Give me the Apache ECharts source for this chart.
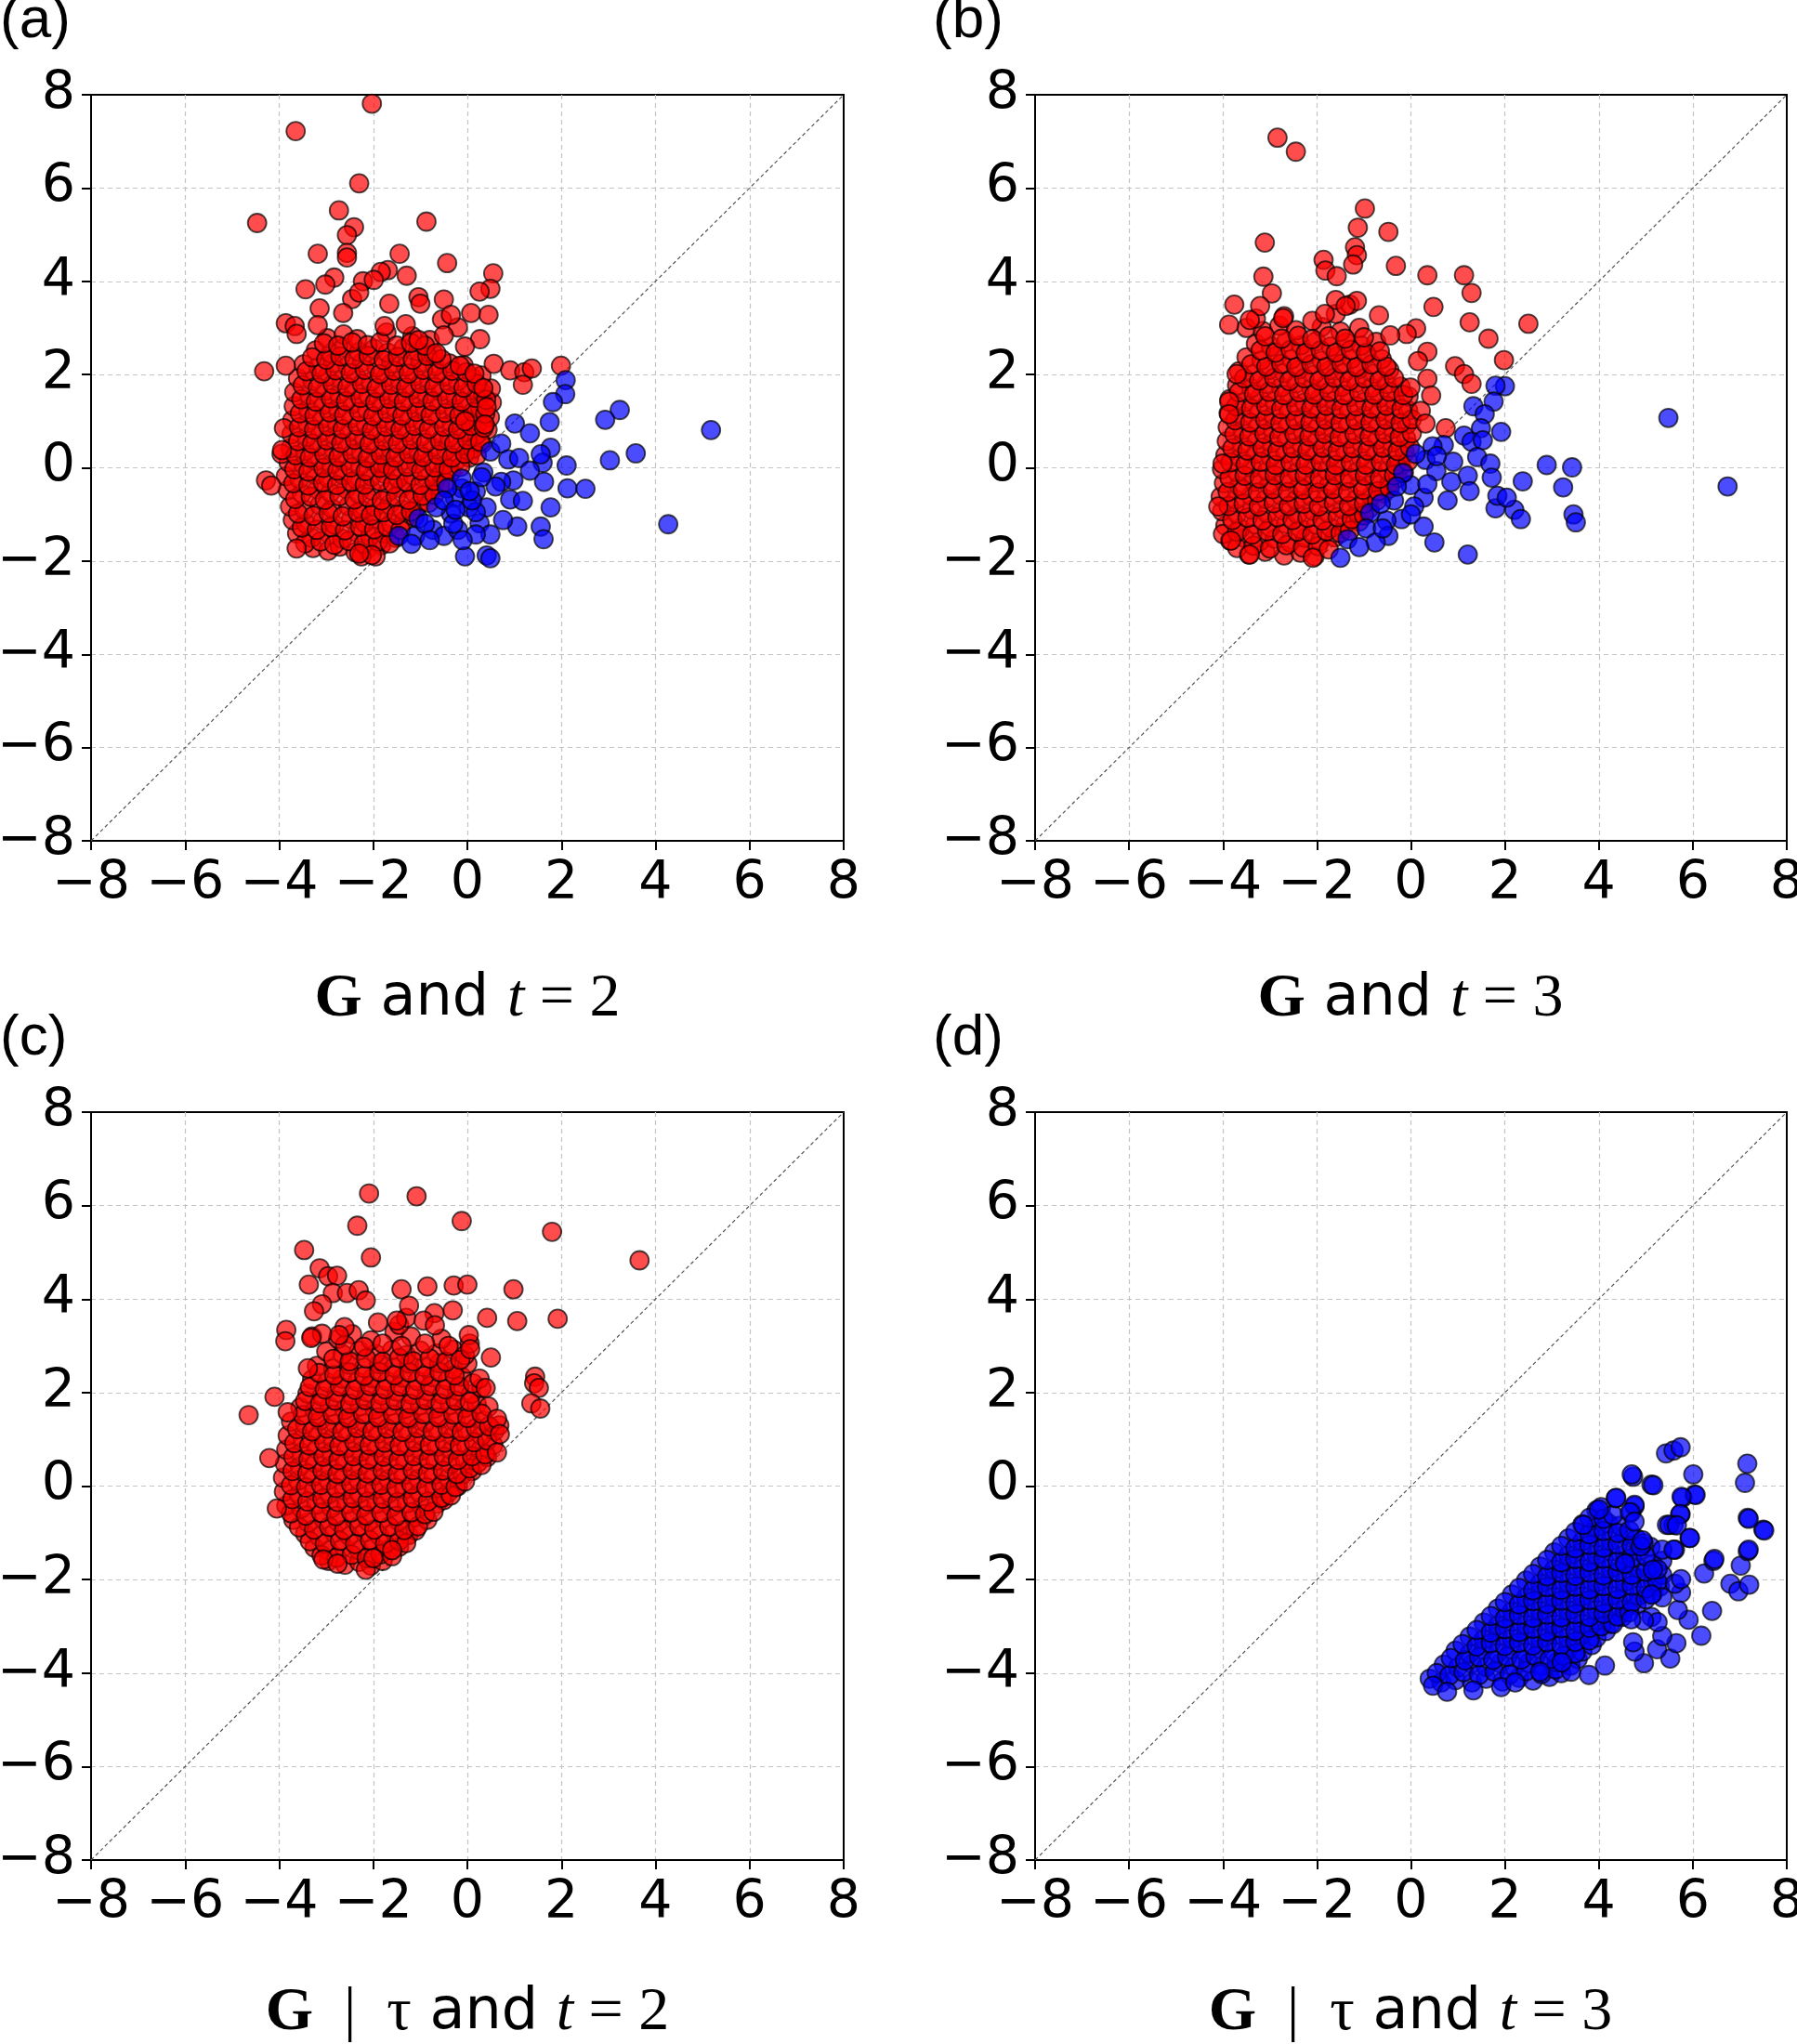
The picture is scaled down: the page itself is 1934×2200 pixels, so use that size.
<!DOCTYPE html>
<html>
<head>
<meta charset="utf-8">
<script src="https://cdn.jsdelivr.net/npm/echarts/dist/echarts.min.js"></script>
<style>
  html, body { margin: 0; padding: 0; background: #fff; }
  #chart-container { width: 1934px; height: 2200px; }
</style>
</head>
<body>
<div id="chart-container"></div>
<script>
// axis ticks shared by all four panels
var tickValues = [-8, -6, -4, -2, 0, 2, 4, 6, 8];
var diagLine = [[-8, -8], [8, 8]];

// (a) G and t = 2
var aRed = [
  [-3.28,-1.72],[-2.96,-1.78],[-2.71,-1.69],[-2.38,-1.81],[-2.12,-1.74],[-1.83,-1.66],[-1.95,-1.9],[-2.25,-1.9],
  [-3.62,-1.41],[-3.31,-1.5],[-2.93,-1.43],[-2.66,-1.52],[-2.34,-1.39],[-2.07,-1.47],[-1.77,-1.41],[-1.52,-1.5],
  [-3.71,-1.12],[-3.43,-1.2],[-3.08,-1.13],[-2.82,-1.22],[-2.47,-1.1],[-2.18,-1.18],[-1.91,-1.09],[-1.62,-1.2],[-1.34,-1.13],[-1.12,-1.05],
  [-3.77,-0.83],[-3.46,-0.9],[-3.14,-0.8],[-2.87,-0.88],[-2.53,-0.82],[-2.24,-0.91],[-1.96,-0.84],[-1.66,-0.79],[-1.37,-0.9],[-1.06,-0.82],[-0.82,-0.75],
  [-3.82,-0.48],[-3.52,-0.55],[-3.19,-0.46],[-2.91,-0.53],[-2.58,-0.45],[-2.31,-0.56],[-2.02,-0.49],[-1.69,-0.52],[-1.41,-0.44],[-1.12,-0.55],[-0.79,-0.47],[-0.58,-0.4],
  [-3.86,-0.18],[-3.57,-0.24],[-3.23,-0.15],[-2.96,-0.22],[-2.64,-0.16],[-2.36,-0.25],[-2.04,-0.19],[-1.76,-0.13],[-1.47,-0.23],[-1.16,-0.17],[-0.86,-0.21],[-0.57,-0.12],[-0.34,-0.08],
  [-3.8,0.12],[-3.48,0.06],[-3.21,0.15],[-2.89,0.08],[-2.62,0.14],[-2.28,0.05],[-1.98,0.13],[-1.71,0.07],[-1.39,0.16],[-1.09,0.09],[-0.81,0.14],[-0.49,0.06],[-0.22,0.17],[0.04,0.22],
  [-3.76,0.42],[-3.45,0.36],[-3.16,0.45],[-2.84,0.38],[-2.55,0.46],[-2.26,0.35],[-1.94,0.43],[-1.63,0.39],[-1.33,0.47],[-1.04,0.36],[-0.74,0.44],[-0.45,0.38],[-0.15,0.47],[0.12,0.41],[0.31,0.52],
  [-3.74,0.72],[-3.41,0.66],[-3.12,0.75],[-2.81,0.69],[-2.51,0.77],[-2.19,0.65],[-1.9,0.74],[-1.58,0.68],[-1.28,0.76],[-0.98,0.67],[-0.69,0.73],[-0.38,0.65],[-0.09,0.76],[0.2,0.71],[0.43,0.82],
  [-3.72,1.02],[-3.4,0.96],[-3.09,1.05],[-2.78,0.98],[-2.47,1.06],[-2.16,0.95],[-1.86,1.04],[-1.55,0.97],[-1.24,1.06],[-0.95,0.99],[-0.63,1.05],[-0.33,0.96],[-0.04,1.04],[0.24,0.98],[0.48,1.08],
  [-3.69,1.32],[-3.38,1.26],[-3.06,1.35],[-2.75,1.28],[-2.44,1.37],[-2.13,1.25],[-1.82,1.34],[-1.52,1.27],[-1.21,1.36],[-0.9,1.28],[-0.6,1.35],[-0.29,1.27],[0.0,1.36],[0.27,1.29],[0.52,1.4],
  [-3.68,1.62],[-3.36,1.56],[-3.03,1.65],[-2.72,1.58],[-2.41,1.66],[-2.1,1.55],[-1.79,1.64],[-1.48,1.57],[-1.18,1.67],[-0.86,1.58],[-0.56,1.64],[-0.25,1.56],[0.05,1.66],[0.33,1.6],[0.5,1.7],
  [-3.6,1.92],[-3.29,1.86],[-2.98,1.95],[-2.67,1.88],[-2.36,1.96],[-2.05,1.85],[-1.74,1.94],[-1.43,1.87],[-1.12,1.96],[-0.81,1.88],[-0.5,1.95],[-0.2,1.86],[0.1,1.94],[0.3,1.98],
  [-3.48,2.22],[-3.17,2.16],[-2.86,2.25],[-2.55,2.18],[-2.24,2.26],[-1.93,2.15],[-1.62,2.24],[-1.31,2.17],[-1.0,2.26],[-0.69,2.18],[-0.38,2.24],[-0.08,2.2],
  [-3.22,2.52],[-2.9,2.46],[-2.62,2.58],[-2.3,2.49],[-1.98,2.55],[-1.69,2.47],[-1.36,2.56],[-1.05,2.5],[-0.72,2.45],
  [-2.98,2.78],[-2.63,2.86],[-2.34,2.76],[-1.72,2.9],[-1.17,2.82],[-0.8,2.74],[-3.95,0.3],[-3.9,0.85],
  [-3.45,-1.62],[-3.12,-1.58],[-2.83,-1.65],[-2.52,-1.57],[-2.2,-1.63],[-1.9,-1.58],[-1.65,-1.62],
  [-3.52,-1.28],[-3.2,-1.33],[-2.9,-1.27],[-2.6,-1.34],[-2.28,-1.26],[-1.98,-1.32],[-1.7,-1.27],[-1.42,-1.33],
  [-3.6,-0.98],[-3.27,-1.03],[-2.95,-0.97],[-2.65,-1.04],[-2.33,-0.96],[-2.05,-1.02],[-1.78,-0.95],[-1.5,-1.01],[-1.2,-0.94],
  [-3.66,-0.67],[-3.33,-0.62],[-3.03,-0.69],[-2.72,-0.61],[-2.4,-0.68],[-2.12,-0.63],[-1.82,-0.7],[-1.52,-0.62],[-1.25,-0.69],[-0.95,-0.6],[-0.7,-0.58],
  [-3.7,-0.33],[-3.38,-0.38],[-3.07,-0.31],[-2.77,-0.37],[-2.47,-0.3],[-2.18,-0.36],[-1.86,-0.29],[-1.58,-0.35],[-1.3,-0.3],[-1.0,-0.37],[-0.7,-0.28],[-0.45,-0.32],
  [-3.68,-0.03],[-3.38,-0.08],[-3.06,0.0],[-2.76,-0.06],[-2.48,0.01],[-2.16,-0.07],[-1.86,0.0],[-1.58,-0.05],[-1.28,0.02],[-0.98,-0.06],[-0.7,0.01],[-0.4,-0.03],[-0.15,0.02],
  [-3.65,0.27],[-3.35,0.22],[-3.04,0.29],[-2.74,0.23],[-2.44,0.3],[-2.12,0.21],[-1.84,0.28],[-1.53,0.22],[-1.24,0.3],[-0.94,0.23],[-0.63,0.28],[-0.33,0.22],[-0.05,0.3],[0.2,0.27],
  [-3.6,0.57],[-3.3,0.52],[-2.99,0.59],[-2.68,0.53],[-2.39,0.6],[-2.08,0.51],[-1.78,0.58],[-1.48,0.52],[-1.18,0.6],[-0.88,0.53],[-0.58,0.58],[-0.28,0.52],[0.0,0.6],[0.27,0.56],
  [-3.58,0.87],[-3.26,0.82],[-2.96,0.89],[-2.65,0.83],[-2.33,0.9],[-2.03,0.81],[-1.73,0.88],[-1.42,0.82],[-1.12,0.9],[-0.82,0.83],[-0.5,0.88],[-0.2,0.82],[0.08,0.9],[0.35,0.86],
  [-3.56,1.17],[-3.25,1.12],[-2.93,1.19],[-2.62,1.13],[-2.3,1.2],[-2.0,1.11],[-1.7,1.18],[-1.38,1.12],[-1.08,1.2],[-0.78,1.13],[-0.47,1.18],[-0.17,1.12],[0.12,1.2],[0.38,1.16],
  [-3.53,1.47],[-3.22,1.42],[-2.9,1.49],[-2.58,1.43],[-2.27,1.5],[-1.96,1.41],[-1.66,1.48],[-1.35,1.42],[-1.04,1.5],[-0.74,1.43],[-0.43,1.48],[-0.12,1.42],[0.18,1.5],[0.4,1.46],
  [-3.5,1.77],[-3.18,1.72],[-2.86,1.79],[-2.55,1.73],[-2.24,1.8],[-1.93,1.71],[-1.62,1.78],[-1.3,1.72],[-1.0,1.8],[-0.7,1.73],[-0.38,1.78],[-0.08,1.72],[0.2,1.8],
  [-3.42,2.07],[-3.1,2.02],[-2.8,2.09],[-2.48,2.03],[-2.18,2.1],[-1.86,2.01],[-1.56,2.08],[-1.25,2.02],[-0.94,2.1],[-0.64,2.03],[-0.32,2.08],[-0.02,2.05],
  [-3.3,2.37],[-3.0,2.32],[-2.7,2.39],[-2.4,2.33],[-2.1,2.4],[-1.78,2.31],[-1.48,2.38],[-1.16,2.32],[-0.85,2.4],[-0.55,2.33],
  [-3.05,2.67],[-2.75,2.62],[-2.45,2.69],[-2.12,2.63],[-1.85,2.7],[-1.5,2.62],[-1.2,2.68],[-0.9,2.62],
  [-2.03,7.81],[-3.65,7.22],[-2.3,6.1],[-4.47,5.25],[-2.73,5.52],[-2.41,5.16],[-2.56,4.99],[-0.87,5.28],[-3.18,4.59],[-2.56,4.61],
  [-2.56,4.51],[-1.44,4.59],[-0.43,4.39],[0.55,4.17],[-1.69,4.24],[-1.84,4.2],[-1.29,4.12],[-2.83,4.08],[-3.02,3.93],[-3.44,3.83],
  [-2.22,4.0],[-1.99,4.03],[0.49,3.84],[0.26,3.78],[-1.04,3.66],[-0.5,3.61],[-2.45,3.62],[-2.3,3.76],[-1.66,3.52],[-1.0,3.52],
  [-3.14,3.42],[-2.64,3.32],[0.08,3.32],[0.45,3.28],[-3.86,3.1],[-3.67,3.04],[-3.63,2.87],[-3.18,3.06],[-1.76,3.04],[-1.31,3.08],
  [-0.54,3.18],[-0.2,3.01],[-0.35,3.28],[-0.5,2.84],[0.27,2.76],[-0.05,2.6],[-1.04,2.74],[-0.66,2.46],[-4.32,2.07],[-3.86,2.19],
  [0.56,2.23],[0.91,2.09],[1.21,2.05],[1.37,2.13],[1.18,1.78],[1.99,2.19],[-0.16,2.19],[0.15,2.02],[0.34,1.71],[0.41,1.3],
  [-0.05,1.0],[0.37,0.93],[-4.28,-0.27],[-4.17,-0.38],[-3.94,0.38],[-3.63,-1.73],[-2.03,-1.87],[-2.3,-1.84]
];
var aBlue = [
  [2.09,1.88],[2.08,1.58],[1.82,1.41],[1.75,0.98],[1.01,0.95],[1.33,0.74],[3.24,1.24],[2.93,1.03],[5.18,0.81],[3.58,0.31],
  [3.03,0.16],[2.11,0.05],[1.77,0.43],[1.6,0.11],[1.63,-0.3],[2.13,-0.44],[2.51,-0.45],[1.77,-0.85],[0.91,-0.68],[1.18,-0.71],
  [1.06,-1.26],[1.56,-1.26],[1.62,-1.53],[4.27,-1.21],[-0.05,-1.9],[0.41,-1.88],[0.49,-1.94],[0.49,0.35],[0.72,0.52],[0.87,0.18],
  [1.1,0.21],[1.33,-0.06],[0.98,-0.27],[0.72,-0.3],[0.34,-0.1],[0.18,-0.51],[-0.12,-0.44],[0.41,-0.85],[0.26,-1.19],[0.49,-1.43],
  [0.76,-1.12],[0.03,-0.85],[-0.27,-0.64],[-0.35,-0.98],[-0.66,-0.85],[-0.73,-1.33],[-1.04,-1.09],[-1.11,-1.46],[-1.46,-1.46],[-1.19,-1.63],
  [-0.5,-1.46],[-0.2,-1.33],[0.18,-1.43],[-0.12,-0.23],[-0.43,-0.44],[0.18,-0.95],[1.56,0.29],[-0.9,-1.2],[-0.3,-1.2],[0.1,-0.7],
  [-0.1,-1.55],[0.6,-0.4],[0.3,-0.2],[-0.5,-0.7],[-0.8,-1.55],[0.05,-0.5],[-0.25,-0.9]
];

// (b) G and t = 3
var bRed = [
  [-3.45,-1.86],[-3.1,-1.8],[-2.7,-1.88],[-2.35,-1.82],[-2.05,-1.9],
  [-3.85,-1.56],[-3.55,-1.5],[-3.22,-1.58],[-2.9,-1.52],[-2.57,-1.6],[-2.25,-1.5],[-1.93,-1.57],[-1.62,-1.49],
  [-3.95,-1.24],[-3.63,-1.3],[-3.31,-1.21],[-2.99,-1.28],[-2.66,-1.2],[-2.34,-1.31],[-2.02,-1.22],[-1.7,-1.29],[-1.39,-1.2],[-1.1,-1.15],
  [-4.02,-0.93],[-3.7,-0.99],[-3.38,-0.9],[-3.06,-0.98],[-2.73,-0.91],[-2.41,-1.0],[-2.09,-0.92],[-1.77,-0.97],[-1.45,-0.89],[-1.14,-0.96],[-0.88,-0.87],
  [-4.05,-0.62],[-3.73,-0.68],[-3.41,-0.6],[-3.09,-0.67],[-2.77,-0.59],[-2.45,-0.69],[-2.13,-0.61],[-1.81,-0.66],[-1.49,-0.58],[-1.17,-0.68],[-0.85,-0.6],[-0.58,-0.55],
  [-3.98,-0.33],[-3.66,-0.39],[-3.34,-0.3],[-3.02,-0.37],[-2.7,-0.29],[-2.38,-0.4],[-2.06,-0.31],[-1.74,-0.36],[-1.42,-0.28],[-1.1,-0.38],[-0.78,-0.3],[-0.47,-0.36],[-0.28,-0.22],
  [-4.02,-0.03],[-3.7,-0.09],[-3.38,0.0],[-3.06,-0.07],[-2.74,0.01],[-2.42,-0.1],[-2.1,-0.01],[-1.78,-0.06],[-1.46,0.02],[-1.14,-0.08],[-0.82,0.0],[-0.5,-0.06],[-0.22,0.04],
  [-3.95,0.27],[-3.63,0.21],[-3.31,0.3],[-2.99,0.23],[-2.67,0.31],[-2.35,0.2],[-2.03,0.29],[-1.71,0.24],[-1.39,0.32],[-1.07,0.22],[-0.75,0.3],[-0.43,0.24],[-0.13,0.33],
  [-3.92,0.57],[-3.6,0.51],[-3.28,0.6],[-2.96,0.53],[-2.64,0.61],[-2.32,0.5],[-2.0,0.59],[-1.68,0.54],[-1.36,0.62],[-1.04,0.52],[-0.72,0.6],[-0.4,0.54],[-0.1,0.63],
  [-3.9,0.87],[-3.58,0.81],[-3.26,0.9],[-2.94,0.83],[-2.62,0.91],[-2.3,0.8],[-1.98,0.89],[-1.66,0.84],[-1.34,0.92],[-1.02,0.82],[-0.7,0.9],[-0.38,0.84],[-0.08,0.93],
  [-3.88,1.17],[-3.56,1.11],[-3.24,1.2],[-2.92,1.13],[-2.6,1.21],[-2.28,1.1],[-1.96,1.19],[-1.64,1.14],[-1.32,1.22],[-1.0,1.12],[-0.68,1.2],[-0.36,1.14],[-0.06,1.23],
  [-3.86,1.47],[-3.54,1.41],[-3.22,1.5],[-2.9,1.43],[-2.58,1.51],[-2.26,1.4],[-1.94,1.49],[-1.62,1.44],[-1.3,1.52],[-0.98,1.42],[-0.66,1.5],[-0.34,1.44],[-0.05,1.53],
  [-3.7,1.77],[-3.4,1.71],[-3.08,1.8],[-2.76,1.73],[-2.44,1.81],[-2.12,1.7],[-1.8,1.79],[-1.48,1.74],[-1.16,1.82],[-0.84,1.72],[-0.52,1.8],[-0.22,1.74],
  [-3.66,2.07],[-3.34,2.01],[-3.02,2.1],[-2.7,2.03],[-2.38,2.11],[-2.06,2.0],[-1.74,2.09],[-1.42,2.04],[-1.1,2.12],[-0.78,2.02],[-0.46,2.1],
  [-3.5,2.37],[-3.18,2.31],[-2.86,2.4],[-2.54,2.33],[-2.22,2.41],[-1.9,2.3],[-1.58,2.39],[-1.26,2.34],[-0.94,2.42],[-0.62,2.33],
  [-3.3,2.66],[-2.98,2.6],[-2.66,2.7],[-2.34,2.63],[-2.02,2.71],[-1.7,2.6],[-1.38,2.69],[-1.06,2.62],[-0.74,2.7],
  [-3.5,3.0],[-3.15,2.93],[-2.8,3.05],[-2.45,2.95],[-1.9,3.02],[-1.5,2.92],[-1.1,3.0],
  [-3.3,3.2],[-2.7,3.25],[-2.1,3.15],[-1.6,3.3],[-1.3,3.5],
  [-3.7,-1.72],[-3.35,-1.67],[-3.0,-1.73],[-2.65,-1.66],[-2.3,-1.71],[-1.98,-1.68],[-1.75,-1.75],
  [-4.0,-1.42],[-3.7,-1.37],[-3.38,-1.43],[-3.06,-1.36],[-2.74,-1.42],[-2.42,-1.37],[-2.1,-1.43],[-1.8,-1.36],[-1.5,-1.4],[-1.3,-1.35],
  [-3.8,-1.12],[-3.48,-1.07],[-3.16,-1.13],[-2.84,-1.06],[-2.52,-1.12],[-2.2,-1.07],[-1.88,-1.13],[-1.56,-1.06],[-1.26,-1.1],[-1.0,-1.02],
  [-3.88,-0.82],[-3.56,-0.77],[-3.24,-0.83],[-2.92,-0.76],[-2.6,-0.82],[-2.28,-0.77],[-1.96,-0.83],[-1.64,-0.76],[-1.32,-0.82],[-1.0,-0.77],[-0.72,-0.7],
  [-3.9,-0.52],[-3.58,-0.47],[-3.26,-0.53],[-2.94,-0.46],[-2.62,-0.52],[-2.3,-0.47],[-1.98,-0.53],[-1.66,-0.46],[-1.34,-0.52],[-1.02,-0.47],[-0.7,-0.5],[-0.45,-0.44],
  [-3.86,-0.22],[-3.54,-0.17],[-3.22,-0.23],[-2.9,-0.16],[-2.58,-0.22],[-2.26,-0.17],[-1.94,-0.23],[-1.62,-0.16],[-1.3,-0.22],[-0.98,-0.17],[-0.66,-0.23],[-0.36,-0.16],[-0.15,-0.1],
  [-3.84,0.12],[-3.52,0.07],[-3.2,0.13],[-2.88,0.06],[-2.56,0.12],[-2.24,0.07],[-1.92,0.13],[-1.6,0.06],[-1.28,0.12],[-0.96,0.07],[-0.64,0.13],[-0.32,0.06],[-0.06,0.14],
  [-3.8,0.42],[-3.48,0.37],[-3.16,0.43],[-2.84,0.36],[-2.52,0.42],[-2.2,0.37],[-1.88,0.43],[-1.56,0.36],[-1.24,0.42],[-0.92,0.37],[-0.6,0.43],[-0.28,0.36],[-0.02,0.44],
  [-3.76,0.72],[-3.44,0.67],[-3.12,0.73],[-2.8,0.66],[-2.48,0.72],[-2.16,0.67],[-1.84,0.73],[-1.52,0.66],[-1.2,0.72],[-0.88,0.67],[-0.56,0.73],[-0.24,0.66],[0.02,0.74],
  [-3.74,1.02],[-3.42,0.97],[-3.1,1.03],[-2.78,0.96],[-2.46,1.02],[-2.14,0.97],[-1.82,1.03],[-1.5,0.96],[-1.18,1.02],[-0.86,0.97],[-0.54,1.03],[-0.22,0.96],[0.02,1.04],
  [-3.72,1.32],[-3.4,1.27],[-3.08,1.33],[-2.76,1.26],[-2.44,1.32],[-2.12,1.27],[-1.8,1.33],[-1.48,1.26],[-1.16,1.32],[-0.84,1.27],[-0.52,1.33],[-0.2,1.26],
  [-3.66,1.62],[-3.34,1.57],[-3.02,1.63],[-2.7,1.56],[-2.38,1.62],[-2.06,1.57],[-1.74,1.63],[-1.42,1.56],[-1.1,1.62],[-0.78,1.57],[-0.46,1.63],[-0.16,1.56],
  [-3.55,1.92],[-3.23,1.87],[-2.91,1.93],[-2.59,1.86],[-2.27,1.92],[-1.95,1.87],[-1.63,1.93],[-1.31,1.86],[-0.99,1.92],[-0.67,1.87],[-0.36,1.93],
  [-3.4,2.22],[-3.08,2.17],[-2.76,2.23],[-2.44,2.16],[-2.12,2.22],[-1.8,2.17],[-1.48,2.23],[-1.16,2.16],[-0.84,2.22],[-0.52,2.17],
  [-3.2,2.52],[-2.88,2.47],[-2.56,2.53],[-2.24,2.46],[-1.92,2.52],[-1.6,2.47],[-1.28,2.53],[-0.96,2.46],[-0.66,2.5],
  [-3.1,2.82],[-2.75,2.77],[-2.4,2.83],[-2.1,2.76],[-1.75,2.82],[-1.4,2.77],[-1.0,2.8],
  [-2.84,7.08],[-2.45,6.78],[-0.98,5.56],[-1.13,5.15],[-0.48,5.06],[-3.11,4.83],[-1.19,4.73],[-1.15,4.56],[-1.23,4.36],[-1.86,4.46],
  [-1.82,4.23],[-1.58,4.11],[-0.32,4.33],[0.35,4.13],[1.13,4.13],[1.29,3.75],[-3.14,4.1],[-2.96,3.74],[-3.76,3.5],[-3.21,3.47],
  [-1.6,3.6],[-1.15,3.58],[-1.39,3.47],[0.48,3.45],[-1.83,3.3],[-0.68,3.27],[-3.87,3.07],[-3.43,3.17],[-2.72,3.21],[1.25,3.12],
  [2.5,3.09],[0.11,2.99],[-0.09,2.87],[-0.44,2.84],[1.65,2.77],[0.35,2.49],[0.15,2.29],[1.98,2.31],[0.94,2.18],[1.13,2.01],
  [1.29,1.8],[0.35,1.91],[0.43,1.55],[0.21,1.22],[0.31,0.95],[0.74,0.85],[-0.01,1.72],[-3.71,2.01],[-3.87,1.42],[-3.87,1.15],
  [-4.1,-0.83],[-3.83,-1.56],[-3.43,-1.86],[-2.09,-1.93],[-4.01,0.09]
];
var bBlue = [
  [5.48,1.07],[6.74,-0.4],[2.89,0.06],[3.43,0.01],[3.24,-0.42],[3.46,-1.0],[3.51,-1.17],[2.38,-0.29],[2.2,-0.9],[2.34,-1.1],
  [1.8,-0.87],[1.84,-0.6],[2.04,-0.64],[2.0,1.75],[1.8,1.76],[1.76,1.42],[1.33,1.32],[1.57,1.15],[1.92,0.77],[1.49,0.85],
  [1.13,0.69],[1.29,0.56],[1.53,0.59],[1.41,0.23],[1.69,0.09],[1.72,-0.21],[1.21,-0.17],[0.9,0.13],[0.7,0.49],[0.46,0.46],
  [0.31,0.17],[0.54,-0.07],[0.86,-0.3],[1.25,-0.5],[0.78,-0.7],[0.27,-0.64],[-0.01,-0.37],[-0.17,-0.11],[-0.36,-0.7],[-0.2,-1.1],
  [-0.52,-1.13],[-0.87,-0.97],[-0.95,-1.3],[-0.48,-1.46],[0.27,-1.26],[0.5,-1.6],[1.21,-1.86],[-1.5,-1.93],[-1.35,-1.53],[0.07,-0.83],
  [-0.64,-0.77],[0.1,0.3],[-0.3,-0.4],[-0.75,-1.6],[0.0,-1.0],[0.55,0.25],[-1.1,-1.7],[-0.6,-1.3],[0.35,-0.35]
];

// (c) G | tau and t = 2
var cRed = [
  [-2.95,-1.6],[-2.6,-1.68],[-2.3,-1.62],[-2.05,-1.7],[-1.8,-1.6],
  [-3.25,-1.32],[-2.95,-1.38],[-2.63,-1.3],[-2.31,-1.37],[-1.99,-1.29],[-1.68,-1.36],[-1.45,-1.3],
  [-3.45,-1.02],[-3.15,-1.08],[-2.83,-1.0],[-2.51,-1.07],[-2.19,-0.99],[-1.87,-1.06],[-1.55,-0.98],[-1.25,-1.05],[-1.1,-0.95],
  [-3.7,-0.72],[-3.38,-0.78],[-3.06,-0.7],[-2.74,-0.77],[-2.42,-0.69],[-2.1,-0.76],[-1.78,-0.68],[-1.46,-0.75],[-1.14,-0.67],[-0.85,-0.72],
  [-3.85,-0.42],[-3.53,-0.48],[-3.21,-0.4],[-2.89,-0.47],[-2.57,-0.39],[-2.25,-0.46],[-1.93,-0.38],[-1.61,-0.45],[-1.29,-0.37],[-0.97,-0.44],[-0.65,-0.38],[-0.5,-0.3],
  [-3.9,-0.12],[-3.58,-0.18],[-3.26,-0.1],[-2.94,-0.17],[-2.62,-0.09],[-2.3,-0.16],[-1.98,-0.08],[-1.66,-0.15],[-1.34,-0.07],[-1.02,-0.14],[-0.7,-0.06],[-0.4,-0.13],[-0.2,0.0],
  [-3.92,0.18],[-3.6,0.12],[-3.28,0.2],[-2.96,0.13],[-2.64,0.21],[-2.32,0.14],[-2.0,0.22],[-1.68,0.15],[-1.36,0.23],[-1.04,0.16],[-0.72,0.24],[-0.4,0.17],[-0.1,0.25],[0.1,0.32],
  [-3.88,0.48],[-3.56,0.42],[-3.24,0.5],[-2.92,0.43],[-2.6,0.51],[-2.28,0.44],[-1.96,0.52],[-1.64,0.45],[-1.32,0.53],[-1.0,0.46],[-0.68,0.54],[-0.36,0.47],[-0.05,0.55],[0.22,0.5],[0.42,0.62],
  [-3.85,0.78],[-3.53,0.72],[-3.21,0.8],[-2.89,0.73],[-2.57,0.81],[-2.25,0.74],[-1.93,0.82],[-1.61,0.75],[-1.29,0.83],[-0.97,0.76],[-0.65,0.84],[-0.33,0.77],[-0.02,0.85],[0.28,0.78],[0.55,0.88],
  [-3.82,1.08],[-3.5,1.02],[-3.18,1.1],[-2.86,1.03],[-2.54,1.11],[-2.22,1.04],[-1.9,1.12],[-1.58,1.05],[-1.26,1.13],[-0.94,1.06],[-0.62,1.14],[-0.3,1.07],[0.0,1.15],[0.3,1.08],[0.58,1.18],
  [-3.75,1.38],[-3.45,1.32],[-3.13,1.4],[-2.81,1.33],[-2.49,1.41],[-2.17,1.34],[-1.85,1.42],[-1.53,1.35],[-1.21,1.43],[-0.89,1.36],[-0.57,1.44],[-0.25,1.37],[0.05,1.45],[0.35,1.4],[0.68,1.3],
  [-3.55,1.68],[-3.25,1.62],[-2.93,1.7],[-2.61,1.63],[-2.29,1.71],[-1.97,1.64],[-1.65,1.72],[-1.33,1.65],[-1.01,1.73],[-0.69,1.66],[-0.37,1.74],[-0.07,1.67],[0.2,1.75],[0.45,1.7],
  [-3.4,1.98],[-3.1,1.92],[-2.78,2.0],[-2.46,1.93],[-2.14,2.01],[-1.82,1.94],[-1.5,2.02],[-1.18,1.95],[-0.86,2.03],[-0.54,1.96],[-0.22,2.04],[0.08,1.97],[0.3,2.1],
  [-3.3,2.28],[-2.98,2.22],[-2.66,2.3],[-2.34,2.23],[-2.02,2.31],[-1.7,2.24],[-1.38,2.32],[-1.06,2.25],[-0.74,2.33],[-0.42,2.26],[-0.12,2.34],
  [-3.2,2.57],[-2.85,2.51],[-2.52,2.6],[-2.2,2.53],[-1.88,2.61],[-1.56,2.54],[-1.24,2.62],[-0.92,2.55],[-0.6,2.63],[-0.3,2.5],[0.0,2.62],
  [-3.0,2.88],[-2.65,2.82],[-2.3,2.9],[-1.95,2.83],[-1.6,2.91],[-1.3,2.8],[-1.0,2.9],[-0.65,2.84],[-0.3,2.92],[-0.05,2.8],
  [-3.3,3.2],[-2.75,3.15],[-2.45,3.25],[-2.05,3.12],[-1.55,3.3],[-1.2,3.2],[-0.55,3.15],[0.05,3.05],
  [-1.9,3.5],[-1.45,3.45],[-1.3,3.6],
  [-3.1,-1.48],[-2.78,-1.53],[-2.46,-1.47],[-2.14,-1.54],[-1.85,-1.46],[-1.6,-1.5],
  [-3.35,-1.18],[-3.03,-1.23],[-2.71,-1.17],[-2.39,-1.24],[-2.07,-1.16],[-1.75,-1.23],[-1.45,-1.17],[-1.3,-1.22],
  [-3.58,-0.88],[-3.26,-0.93],[-2.94,-0.87],[-2.62,-0.94],[-2.3,-0.86],[-1.98,-0.93],[-1.66,-0.87],[-1.34,-0.94],[-1.05,-0.86],
  [-3.75,-0.58],[-3.43,-0.63],[-3.11,-0.57],[-2.79,-0.64],[-2.47,-0.56],[-2.15,-0.63],[-1.83,-0.57],[-1.51,-0.64],[-1.19,-0.56],[-0.9,-0.6],[-0.72,-0.55],
  [-3.72,-0.28],[-3.4,-0.33],[-3.08,-0.27],[-2.76,-0.34],[-2.44,-0.26],[-2.12,-0.33],[-1.8,-0.27],[-1.48,-0.34],[-1.16,-0.26],[-0.84,-0.33],[-0.55,-0.25],[-0.35,-0.2],
  [-3.75,0.02],[-3.43,-0.03],[-3.11,0.03],[-2.79,-0.04],[-2.47,0.04],[-2.15,-0.03],[-1.83,0.03],[-1.51,-0.04],[-1.19,0.04],[-0.87,-0.03],[-0.55,0.03],[-0.25,-0.02],[-0.05,0.1],
  [-3.72,0.32],[-3.4,0.27],[-3.08,0.33],[-2.76,0.26],[-2.44,0.34],[-2.12,0.27],[-1.8,0.33],[-1.48,0.26],[-1.16,0.34],[-0.84,0.27],[-0.52,0.33],[-0.22,0.26],[0.05,0.38],[0.3,0.45],
  [-3.7,0.62],[-3.38,0.57],[-3.06,0.63],[-2.74,0.56],[-2.42,0.64],[-2.1,0.57],[-1.78,0.63],[-1.46,0.56],[-1.14,0.64],[-0.82,0.57],[-0.5,0.63],[-0.2,0.56],[0.1,0.64],[0.38,0.68],
  [-3.68,0.92],[-3.36,0.87],[-3.04,0.93],[-2.72,0.86],[-2.4,0.94],[-2.08,0.87],[-1.76,0.93],[-1.44,0.86],[-1.12,0.94],[-0.8,0.87],[-0.48,0.93],[-0.16,0.86],[0.14,0.94],[0.42,0.98],
  [-3.62,1.22],[-3.3,1.17],[-2.98,1.23],[-2.66,1.16],[-2.34,1.24],[-2.02,1.17],[-1.7,1.23],[-1.38,1.16],[-1.06,1.24],[-0.74,1.17],[-0.42,1.23],[-0.12,1.16],[0.18,1.24],[0.46,1.28],
  [-3.5,1.52],[-3.18,1.47],[-2.86,1.53],[-2.54,1.46],[-2.22,1.54],[-1.9,1.47],[-1.58,1.53],[-1.26,1.46],[-0.94,1.54],[-0.62,1.47],[-0.3,1.53],[0.0,1.46],[0.3,1.55],
  [-3.45,1.82],[-3.13,1.77],[-2.81,1.83],[-2.49,1.76],[-2.17,1.84],[-1.85,1.77],[-1.53,1.83],[-1.21,1.76],[-0.89,1.84],[-0.57,1.77],[-0.25,1.83],[0.05,1.8],
  [-3.35,2.12],[-3.03,2.07],[-2.71,2.13],[-2.39,2.06],[-2.07,2.14],[-1.75,2.07],[-1.43,2.13],[-1.11,2.06],[-0.79,2.14],[-0.47,2.07],[-0.17,2.13],[0.12,2.2],
  [-3.15,2.42],[-2.83,2.37],[-2.51,2.43],[-2.19,2.36],[-1.87,2.44],[-1.55,2.37],[-1.23,2.43],[-0.91,2.36],[-0.59,2.44],[-0.27,2.37],
  [-2.85,2.72],[-2.5,2.67],[-2.15,2.73],[-1.8,2.66],[-1.45,2.74],[-1.15,2.67],[-0.8,2.73],[-0.45,2.66],[-0.15,2.7],
  [-2.6,3.02],[-2.2,2.98],[-1.8,3.05],[-1.4,3.0],[-0.9,3.05],[-0.4,3.0],
  [-2.09,6.26],[-1.08,6.2],[-2.34,5.57],[-0.12,5.67],[1.8,5.44],[3.66,4.83],[-3.47,5.05],[-2.05,4.89],[-3.14,4.66],[-2.96,4.49],
  [-2.77,4.5],[-3.37,4.31],[-2.86,4.13],[-2.56,4.13],[-2.31,4.19],[-2.16,3.97],[-3.09,3.89],[-3.26,3.74],[-1.4,4.21],[-0.85,4.27],
  [-0.29,4.29],[0.0,4.31],[0.98,4.21],[-1.24,3.86],[-0.7,3.7],[-0.31,3.76],[-0.93,3.54],[-0.69,3.44],[-1.5,3.54],[0.42,3.6],
  [1.06,3.53],[1.92,3.58],[-3.85,3.34],[-3.87,3.1],[-2.61,3.4],[-2.73,3.23],[-3.09,3.26],[-3.32,3.17],[0.03,3.23],[0.5,2.75],
  [0.06,2.93],[-3.39,2.52],[1.44,2.34],[1.42,2.2],[1.52,2.1],[1.36,1.77],[1.55,1.66],[0.26,2.3],[0.39,2.1],[-4.1,1.91],
  [-4.65,1.52],[-3.82,1.58],[-4.21,0.6],[-4.05,-0.48],[-3.06,-1.57],[-2.76,-1.66],[-2.16,-1.79],[-2.0,-1.54],[-1.6,-1.37],[0.63,0.72],
  [0.63,1.44],[0.69,1.11]
];

// (d) G | tau and t = 3
var dBlue = [
  [0.4,-4.12],[0.65,-4.2],[0.95,-4.15],[1.3,-4.2],[1.6,-4.12],[1.95,-4.18],[2.3,-4.1],[2.6,-4.16],[2.95,-4.08],[3.2,-4.0],
  [0.7,-3.82],[1.0,-3.88],[1.3,-3.8],[1.6,-3.87],[1.9,-3.79],[2.2,-3.86],[2.5,-3.78],[2.8,-3.85],[3.1,-3.77],[3.4,-3.84],[3.55,-3.7],
  [0.95,-3.52],[1.25,-3.58],[1.55,-3.5],[1.85,-3.57],[2.15,-3.49],[2.45,-3.56],[2.75,-3.48],[3.05,-3.55],[3.35,-3.47],[3.65,-3.54],[3.85,-3.4],
  [1.25,-3.22],[1.55,-3.28],[1.85,-3.2],[2.15,-3.27],[2.45,-3.19],[2.75,-3.26],[3.05,-3.18],[3.35,-3.25],[3.65,-3.17],[3.95,-3.24],[4.15,-3.1],
  [1.55,-2.92],[1.85,-2.98],[2.15,-2.9],[2.45,-2.97],[2.75,-2.89],[3.05,-2.96],[3.35,-2.88],[3.65,-2.95],[3.95,-2.87],[4.25,-2.94],[4.5,-2.8],
  [1.85,-2.62],[2.15,-2.68],[2.45,-2.6],[2.75,-2.67],[3.05,-2.59],[3.35,-2.66],[3.65,-2.58],[3.95,-2.65],[4.25,-2.57],[4.55,-2.64],[4.8,-2.55],
  [2.15,-2.32],[2.45,-2.38],[2.75,-2.3],[3.05,-2.37],[3.35,-2.29],[3.65,-2.36],[3.95,-2.28],[4.25,-2.35],[4.55,-2.27],[4.85,-2.34],[5.15,-2.3],[5.3,-2.15],
  [2.45,-2.02],[2.75,-2.08],[3.05,-2.0],[3.35,-2.07],[3.65,-1.99],[3.95,-2.06],[4.25,-1.98],[4.55,-2.05],[4.85,-1.97],[5.15,-2.04],[5.35,-1.9],
  [2.75,-1.72],[3.05,-1.78],[3.35,-1.7],[3.65,-1.77],[3.95,-1.69],[4.25,-1.76],[4.55,-1.68],[4.85,-1.75],[5.15,-1.67],[5.35,-1.6],
  [3.05,-1.42],[3.35,-1.48],[3.65,-1.4],[3.95,-1.47],[4.25,-1.39],[4.55,-1.46],[4.85,-1.38],[5.1,-1.3],
  [3.35,-1.12],[3.65,-1.18],[3.95,-1.1],[4.25,-1.17],[4.55,-1.05],[4.8,-1.12],
  [3.65,-0.82],[3.95,-0.88],[4.2,-0.8],[4.45,-0.85],[3.95,-0.52],[4.05,-0.45],
  [0.55,-4.0],[0.82,-4.05],[1.12,-3.98],[1.45,-4.04],[1.78,-3.97],[2.1,-4.03],[2.45,-3.96],[2.78,-4.02],[3.08,-3.92],
  [0.85,-3.68],[1.15,-3.73],[1.45,-3.66],[1.75,-3.72],[2.05,-3.65],[2.35,-3.71],[2.65,-3.64],[2.95,-3.7],[3.25,-3.63],[3.5,-3.58],
  [1.1,-3.38],[1.4,-3.43],[1.7,-3.36],[2.0,-3.42],[2.3,-3.35],[2.6,-3.41],[2.9,-3.34],[3.2,-3.4],[3.5,-3.33],[3.8,-3.3],
  [1.4,-3.08],[1.7,-3.13],[2.0,-3.06],[2.3,-3.12],[2.6,-3.05],[2.9,-3.11],[3.2,-3.04],[3.5,-3.1],[3.8,-3.03],[4.05,-3.0],[4.3,-2.95],
  [1.7,-2.78],[2.0,-2.83],[2.3,-2.76],[2.6,-2.82],[2.9,-2.75],[3.2,-2.81],[3.5,-2.74],[3.8,-2.8],[4.1,-2.73],[4.4,-2.79],[4.65,-2.7],
  [2.0,-2.48],[2.3,-2.53],[2.6,-2.46],[2.9,-2.52],[3.2,-2.45],[3.5,-2.51],[3.8,-2.44],[4.1,-2.5],[4.4,-2.43],[4.7,-2.49],[5.0,-2.42],
  [2.3,-2.18],[2.6,-2.23],[2.9,-2.16],[3.2,-2.22],[3.5,-2.15],[3.8,-2.21],[4.1,-2.14],[4.4,-2.2],[4.7,-2.13],[5.0,-2.19],[5.25,-2.05],
  [2.6,-1.88],[2.9,-1.93],[3.2,-1.86],[3.5,-1.92],[3.8,-1.85],[4.1,-1.91],[4.4,-1.84],[4.7,-1.9],[5.0,-1.83],[5.25,-1.78],
  [2.9,-1.58],[3.2,-1.63],[3.5,-1.56],[3.8,-1.62],[4.1,-1.55],[4.4,-1.61],[4.7,-1.54],[5.0,-1.5],
  [3.2,-1.28],[3.5,-1.33],[3.8,-1.26],[4.1,-1.32],[4.4,-1.25],[4.7,-1.28],[4.95,-1.22],
  [3.5,-0.98],[3.8,-1.03],[4.1,-0.96],[4.4,-1.0],[4.65,-0.95],[3.8,-0.68],[4.1,-0.7],[4.3,-0.62],
  [0.47,-4.27],[0.77,-4.4],[1.33,-4.37],[1.92,-4.3],[2.22,-4.2],[2.75,-3.97],[3.41,-3.97],[3.79,-4.04],[4.13,-3.84],[3.21,-3.77],
  [4.96,-3.79],[5.52,-3.69],[5.24,-3.49],[5.65,-3.36],[5.35,-3.21],[4.76,-3.54],[4.73,-3.34],[6.18,-3.2],[6.41,-2.67],[5.91,-2.86],
  [5.68,-2.65],[5.12,-2.8],[5.25,-2.91],[4.96,-2.88],[4.69,-2.85],[5.75,-2.28],[5.62,-2.09],[5.35,-2.38],[5.12,-2.32],[6.24,-1.87],
  [6.44,-1.6],[6.8,-2.09],[6.97,-2.25],[7.2,-2.11],[7.02,-1.7],[7.17,-1.39],[7.5,-0.93],[7.17,-0.68],[7.11,0.07],[7.16,0.48],
  [5.93,-1.11],[5.74,-0.6],[5.78,-0.25],[6.04,-0.18],[6.01,0.25],[5.45,-0.83],[5.59,-0.83],[5.62,-1.36],[5.35,-1.36],[5.12,0.03],
  [4.73,0.2],[4.76,-0.43],[4.69,-0.56],[4.36,-0.26],[4.0,-0.5],[5.15,-1.79],[4.89,-1.29],[4.56,-1.66],[5.75,-1.99],[5.43,0.7],
  [5.59,0.76],[5.74,0.83],[6.06,-0.19],[5.16,0.02],[4.7,0.25],[4.37,-0.25],[4.76,-0.4],[4.66,-0.56],[4.76,-0.76],[5.76,-0.23],
  [5.73,-0.6],[5.5,-0.83],[5.66,-0.84],[5.94,-1.11],[7.19,-0.7],[7.52,-0.95],[7.19,-1.36],[6.46,-1.56],[3.67,-0.83],[4.93,-1.16],
  [5.59,-1.36]
];

var dom = document.getElementById("chart-container");
var myChart = echarts.init(dom, null, { renderer: "canvas" });

var grids = [
  { left: 98, top: 102, width: 810, height: 803 },
  { left: 1114, top: 102, width: 809, height: 803 },
  { left: 98, top: 1197, width: 810, height: 805 },
  { left: 1114, top: 1197, width: 809, height: 805 }
];
var panelData = [
  { red: aRed, blue: aBlue },
  { red: bRed, blue: bBlue },
  { red: cRed, blue: [] },
  { red: [], blue: dBlue }
];

function minusFmt(v) {
  return v < 0 ? "\u2212" + Math.abs(v) : String(v);
}

function makeAxis(i) {
  return {
    gridIndex: i,
    type: "value",
    min: tickValues[0],
    max: tickValues[tickValues.length - 1],
    interval: 2,
    axisLine: { onZero: false, lineStyle: { color: "#000", width: 2 } },
    axisTick: { show: true, length: 10, lineStyle: { color: "#000", width: 2 } },
    axisLabel: {
      color: "#000",
      fontSize: 57,
      fontFamily: "DejaVu Sans",
      formatter: minusFmt
    },
    splitLine: {
      show: true, showMinLine: false, showMaxLine: false,
      lineStyle: { color: "#c4c4c4", width: 1.2, type: [5, 4] }
    }
  };
}

var xAxes = [], yAxes = [], series = [];
grids.forEach(function (g, i) {
  var xa = makeAxis(i);
  xa.axisLabel.margin = 19;
  var ya = makeAxis(i);
  ya.axisLabel.margin = 17;
  xAxes.push(xa);
  yAxes.push(ya);
  series.push({
    type: "line", xAxisIndex: i, yAxisIndex: i, data: diagLine,
    symbol: "none", silent: true, z: 2,
    lineStyle: { color: "#555", width: 1.2, type: [4, 3] }
  });
  series.push({
    type: "scatter", xAxisIndex: i, yAxisIndex: i, data: panelData[i].red,
    symbolSize: 20, silent: true, z: 3,
    itemStyle: { color: "#ff0000", borderColor: "#000", borderWidth: 1.8, opacity: 0.7 }
  });
  series.push({
    type: "scatter", xAxisIndex: i, yAxisIndex: i, data: panelData[i].blue,
    symbolSize: 20, silent: true, z: 4,
    itemStyle: { color: "#0000ff", borderColor: "#000", borderWidth: 1.8, opacity: 0.7 }
  });
});

var titleRich = {
  g: { fontFamily: "Liberation Serif", fontWeight: "bold", fontSize: 66, fill: "#000" },
  s: { fontFamily: "DejaVu Sans", fontSize: 62, fill: "#000" },
  i: { fontFamily: "Liberation Serif", fontStyle: "italic", fontSize: 66, fill: "#000" },
  r: { fontFamily: "Liberation Serif", fontSize: 66, fill: "#000" }
};
function titleText(x, y, text) {
  return {
    type: "text", x: x, y: y, silent: true,
    style: { text: text, rich: titleRich, align: "center", verticalAlign: "middle", fill: "#000" }
  };
}
function panelLabel(x, y, text) {
  return {
    type: "text", x: x, y: y, silent: true,
    style: { text: text, font: "62px 'Liberation Sans'", fill: "#000", align: "left", verticalAlign: "top" }
  };
}

var option = {
  animation: false,
  backgroundColor: "#fff",
  grid: grids.map(function (g) {
    return { left: g.left, top: g.top, width: g.width, height: g.height,
             containLabel: false, outerBoundsMode: "none",
             show: true, borderColor: "#000", borderWidth: 2, backgroundColor: "transparent" };
  }),
  xAxis: xAxes,
  yAxis: yAxes,
  series: series,
  graphic: [
    panelLabel(0, -8, "(a)"),
    panelLabel(1004, -8, "(b)"),
    panelLabel(0, 1087, "(c)"),
    panelLabel(1004, 1087, "(d)"),
    titleText(503, 1076, "{g|G}{s| and }{i|t}{r| = 2}"),
    titleText(1518, 1076, "{g|G}{s| and }{i|t}{r| = 3}"),
    titleText(503, 2167, "{g|G}{r|  |  \u03c4}{s| and }{i|t}{r| = 2}"),
    titleText(1518, 2167, "{g|G}{r|  |  \u03c4}{s| and }{i|t}{r| = 3}")
  ]
};

myChart.setOption(option);
window.addEventListener("resize", myChart.resize);
</script>
</body>
</html>
